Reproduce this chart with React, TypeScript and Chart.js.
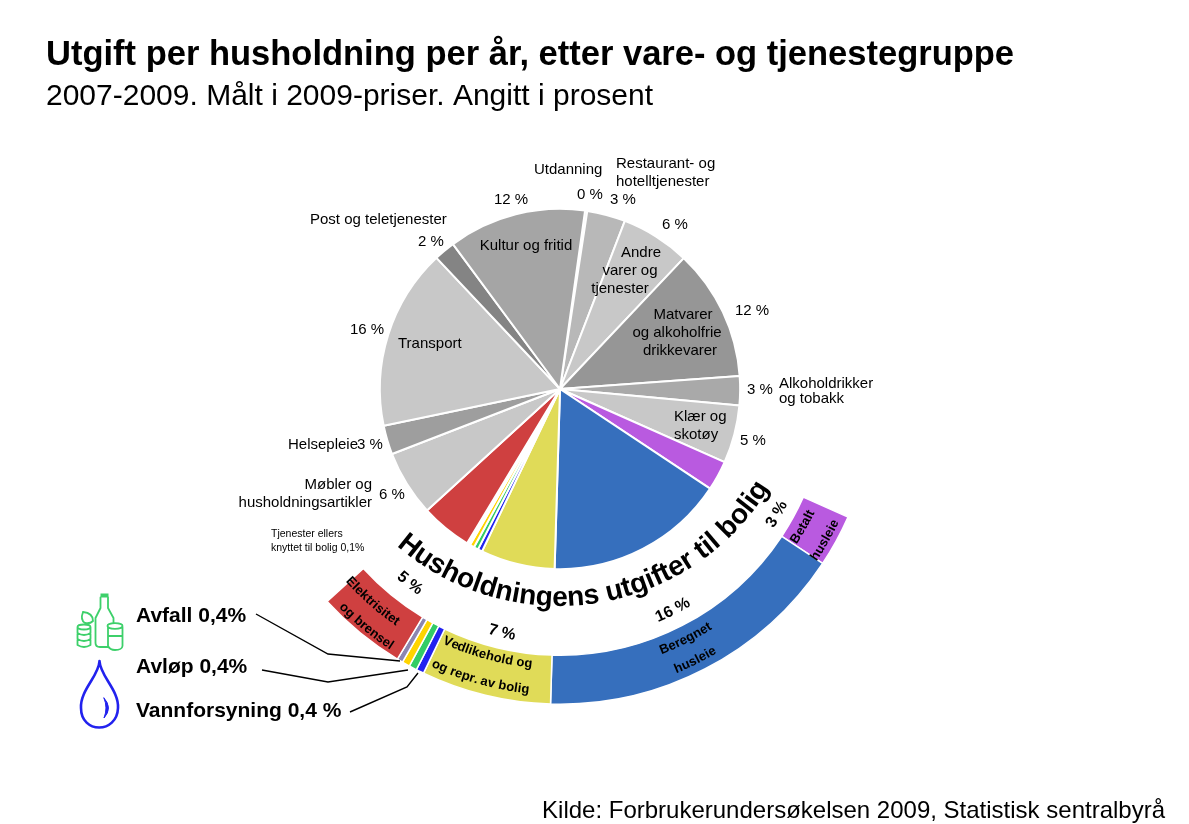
import React, { useEffect, useRef } from "react";
import { Chart, registerables } from "chart.js";

Chart.register(...registerables);

const categories = [
  "Utdanning", "Restaurant- og hotelltjenester", "Andre varer og tjenester",
  "Matvarer og alkoholfrie drikkevarer", "Alkoholdrikker og tobakk", "Klær og skotøy",
  "Betalt husleie", "Beregnet husleie", "Vedlikehold og reparasjon av bolig",
  "Vannforsyning", "Avløp", "Avfall", "Tjenester ellers knyttet til bolig",
  "Elektrisitet og brensel", "Møbler og husholdningsartikler", "Helsepleie",
  "Transport", "Post og teletjenester", "Kultur og fritid",
];
const shares = [0.2, 3.44, 6.2, 11.8, 2.6, 5.2, 2.67, 16.15, 6.65, 0.4, 0.4, 0.4, 0.3, 4.6, 5.9, 2.6, 16.25, 1.9, 12.35];
const pieColors = [
  "#b0b0b0", "#b8b8b8", "#c8c8c8", "#969696", "#a9a9a9", "#c8c8c8",
  "#b95ae0", "#366fbd", "#e0db58", "#2222f0", "#33cc66", "#ffd400", "#ffffff",
  "#cf4040", "#c8c8c8", "#9e9e9e", "#c8c8c8", "#848484", "#a5a5a5",
];
const NONE = "rgba(0,0,0,0)";
const ringColors = [
  NONE, NONE, NONE, NONE, NONE, NONE,
  "#b95ae0", "#366fbd", "#e0db58", "#2222f0", "#33cc66", "#ffd400", "#8c86b0",
  "#cf4040", NONE, NONE, NONE, NONE, NONE,
];
const ringBorders = ringColors.map((c) => (c === NONE ? NONE : "#ffffff"));

const TITLE = "Utgift per husholdning per år, etter vare- og tjenestegruppe";
const SUBTITLE = "2007-2009. Målt i 2009-priser. Angitt i prosent";
const SOURCE = "Kilde: Forbrukerundersøkelsen 2009, Statistisk sentralbyrå";
const RING_TITLE = "Husholdningens utgifter til bolig";

type T = [string, number, number, CanvasTextAlign?];
const pieLabels: T[] = [
  ["Utdanning", 534, 170], ["0 %", 577, 195], ["12 %", 494, 200],
  ["Restaurant- og", 616, 164], ["hotelltjenester", 616, 182], ["3 %", 610, 200], ["6 %", 662, 225],
  ["Andre", 641, 253, "center"], ["varer og", 630, 271, "center"], ["tjenester", 620, 289, "center"],
  ["12 %", 735, 311], ["Matvarer", 683, 315, "center"], ["og alkoholfrie", 677, 333, "center"], ["drikkevarer", 680, 351, "center"],
  ["3 %", 747, 390], ["Alkoholdrikker", 779, 384], ["og tobakk", 779, 399],
  ["Klær og", 674, 417], ["skotøy", 674, 435], ["5 %", 740, 441],
  ["Helsepleie", 288, 445], ["3 %", 357, 445],
  ["Møbler og", 372, 485, "right"], ["husholdningsartikler", 372, 503, "right"], ["6 %", 379, 495],
  ["Post og teletjenester", 310, 220], ["2 %", 418, 242], ["Kultur og fritid", 526, 246, "center"],
  ["16 %", 350, 330], ["Transport", 398, 344],
];
const smallLabels: T[] = [["Tjenester ellers", 271, 534], ["knyttet til bolig 0,1%", 271, 548]];
const utilityLabels: T[] = [["Avfall 0,4%", 136, 616], ["Avløp 0,4%", 136, 667], ["Vannforsyning 0,4 %", 136, 711]];

// text, angle clockwise from top (deg), baseline radius
const ringLabels: [string, number, number][] = [
  ["Elektrisitet", 221.4, 288], ["og brensel", 219.2, 311],
  ["Vedlikehold og", 195.3, 280], ["og repr. av bolig", 195.4, 306],
  ["Beregnet", 153.3, 284], ["husleie", 153.5, 307],
  ["Betalt", 119.6, 283], ["husleie", 119.7, 309],
];
const ringPercents: [string, number, number][] = [
  ["5 %", 217.7, 250], ["7 %", 193.4, 255], ["16 %", 153, 253], ["3 %", 120, 255],
];

const leaderLines: [number, number][][] = [
  [[256, 614], [328, 654], [400, 661]],
  [[262, 670], [328, 682], [408, 670]],
  [[350, 712], [407, 687], [418, 673]],
];

const FONT = '"Liberation Sans", Arial, sans-serif';

function curved(ctx: CanvasRenderingContext2D, text: string, cx: number, cy: number, deg: number, r: number, rAdv: number) {
  const total = ctx.measureText(text).width;
  const center = (deg * Math.PI) / 180;
  ctx.textAlign = "left";
  ctx.textBaseline = "alphabetic";
  for (let i = 0; i < text.length; i++) {
    const before = ctx.measureText(text.slice(0, i)).width;
    const w = ctx.measureText(text[i]).width;
    const a = center - (before + w / 2 - total / 2) / rAdv;
    ctx.save();
    ctx.translate(cx + r * Math.sin(a), cy - r * Math.cos(a));
    ctx.rotate(a - Math.PI);
    ctx.fillText(text[i], -w / 2, 0);
    ctx.restore();
  }
}

function drawIcons(ctx: CanvasRenderingContext2D) {
  ctx.save();
  ctx.lineJoin = "round";
  ctx.lineCap = "round";
  ctx.strokeStyle = "#3dd06a";
  ctx.lineWidth = 1.8;
  // bottle
  ctx.beginPath();
  ctx.moveTo(100.5, 597.5); ctx.lineTo(100.5, 608);
  ctx.lineTo(95.5, 618); ctx.lineTo(95.5, 643);
  ctx.quadraticCurveTo(95.5, 647, 100, 647); ctx.lineTo(108, 647);
  ctx.moveTo(108, 597.5); ctx.lineTo(108, 608); ctx.lineTo(113.5, 618); ctx.lineTo(113.5, 623);
  ctx.stroke();
  ctx.fillStyle = "#3dd06a";
  ctx.fillRect(100.5, 593.5, 8, 4);
  // jar
  ctx.beginPath();
  ctx.ellipse(115, 626, 7.5, 2.8, 0, 0, Math.PI * 2);
  ctx.moveTo(108, 627); ctx.lineTo(108, 646);
  ctx.quadraticCurveTo(110, 650, 115, 650); ctx.quadraticCurveTo(122, 650, 122.5, 646);
  ctx.lineTo(122.5, 627);
  ctx.moveTo(108, 636); ctx.lineTo(122.5, 636);
  ctx.stroke();
  // can
  ctx.beginPath();
  ctx.ellipse(84, 627, 6.5, 2.5, 0, 0, Math.PI * 2);
  ctx.moveTo(77.5, 627); ctx.lineTo(77.5, 645);
  ctx.quadraticCurveTo(84, 649, 90.5, 645); ctx.lineTo(90.5, 627);
  ctx.moveTo(77.5, 633); ctx.quadraticCurveTo(84, 637, 90.5, 633);
  ctx.moveTo(77.5, 639); ctx.quadraticCurveTo(84, 643, 90.5, 639);
  ctx.stroke();
  // lid / leaf
  ctx.beginPath();
  ctx.moveTo(83, 612); ctx.quadraticCurveTo(93, 613, 93, 621);
  ctx.quadraticCurveTo(90, 624, 85, 623); ctx.quadraticCurveTo(80, 620, 83, 612);
  ctx.stroke();
  // drop
  ctx.strokeStyle = "#2222ee";
  ctx.lineWidth = 2.6;
  ctx.beginPath();
  ctx.moveTo(99.5, 661);
  ctx.bezierCurveTo(100, 676, 119, 690, 118, 708);
  ctx.bezierCurveTo(117, 734, 81, 734, 81, 708);
  ctx.bezierCurveTo(80, 690, 99, 676, 99.5, 661);
  ctx.stroke();
  ctx.fillStyle = "#2222ee";
  ctx.lineWidth = 1;
  ctx.beginPath();
  ctx.moveTo(104, 698);
  ctx.quadraticCurveTo(113, 708, 104, 718);
  ctx.quadraticCurveTo(108, 708, 104, 698);
  ctx.fill();
  ctx.stroke();
  ctx.restore();
}

const overlay = {
  id: "overlay",
  afterDraw(chart: any) {
    const ctx: CanvasRenderingContext2D = chart.ctx;
    const { left, right, top, bottom } = chart.chartArea;
    const cx = (left + right) / 2;
    const cy = (top + bottom) / 2;
    ctx.save();
    ctx.fillStyle = "#000";
    ctx.textBaseline = "alphabetic";
    ctx.textAlign = "left";
    ctx.font = `bold 34.5px ${FONT}`;
    ctx.fillText(TITLE, 46, 65);
    ctx.font = `30px ${FONT}`;
    ctx.fillText(SUBTITLE, 46, 105);
    ctx.font = `24px ${FONT}`;
    ctx.textAlign = "right";
    ctx.fillText(SOURCE, 1165, 818);

    ctx.textBaseline = "middle";
    const put = (list: T[]) => list.forEach(([s, x, y, al]) => {
      ctx.textAlign = al ?? "left";
      ctx.fillText(s, x, y);
    });
    ctx.font = `15px ${FONT}`;
    put(pieLabels);
    ctx.font = `10.5px ${FONT}`;
    put(smallLabels);
    ctx.font = `bold 21px ${FONT}`;
    put(utilityLabels);

    ctx.font = `bold 13px ${FONT}`;
    ringLabels.forEach(([s, d, r]) => curved(ctx, s, cx, cy, d, r, r - 5));
    ctx.font = `bold 16px ${FONT}`;
    ringPercents.forEach(([s, d, r]) => curved(ctx, s, cx, cy, d, r, r - 5));
    ctx.font = `bold 28px ${FONT}`;
    curved(ctx, RING_TITLE, cx - 1.5, cy - 30, 171.2, 247, 248);

    ctx.strokeStyle = "#000";
    ctx.lineWidth = 1.4;
    leaderLines.forEach((pts) => {
      ctx.beginPath();
      pts.forEach(([x, y], i) => (i ? ctx.lineTo(x, y) : ctx.moveTo(x, y)));
      ctx.stroke();
    });
    drawIcons(ctx);
    ctx.restore();
  },
};

export default function App() {
  const ref = useRef<HTMLCanvasElement>(null);
  useEffect(() => {
    const chart = new Chart(ref.current!, {
      type: "doughnut",
      data: {
        labels: categories,
        datasets: [
          { data: shares, backgroundColor: ringColors, borderColor: ringBorders, borderWidth: 1.5, weight: 49 },
          { data: shares, backgroundColor: NONE, borderColor: NONE, borderWidth: 0, weight: 86 },
          { data: shares, backgroundColor: pieColors, borderColor: "#ffffff", borderWidth: 2, weight: 180 },
        ],
      } as any,
      options: {
        responsive: false,
        animation: false,
        events: [],
        rotation: 8,
        cutout: 0,
        layout: { padding: { left: 244, right: 313, top: 73, bottom: 119 } },
        plugins: { legend: { display: false }, tooltip: { enabled: false } },
      } as any,
      plugins: [overlay],
    });
    return () => chart.destroy();
  }, []);
  return <canvas ref={ref} width={1189} height={824} style={{ position: "absolute", left: 0, top: 0 }} />;
}
